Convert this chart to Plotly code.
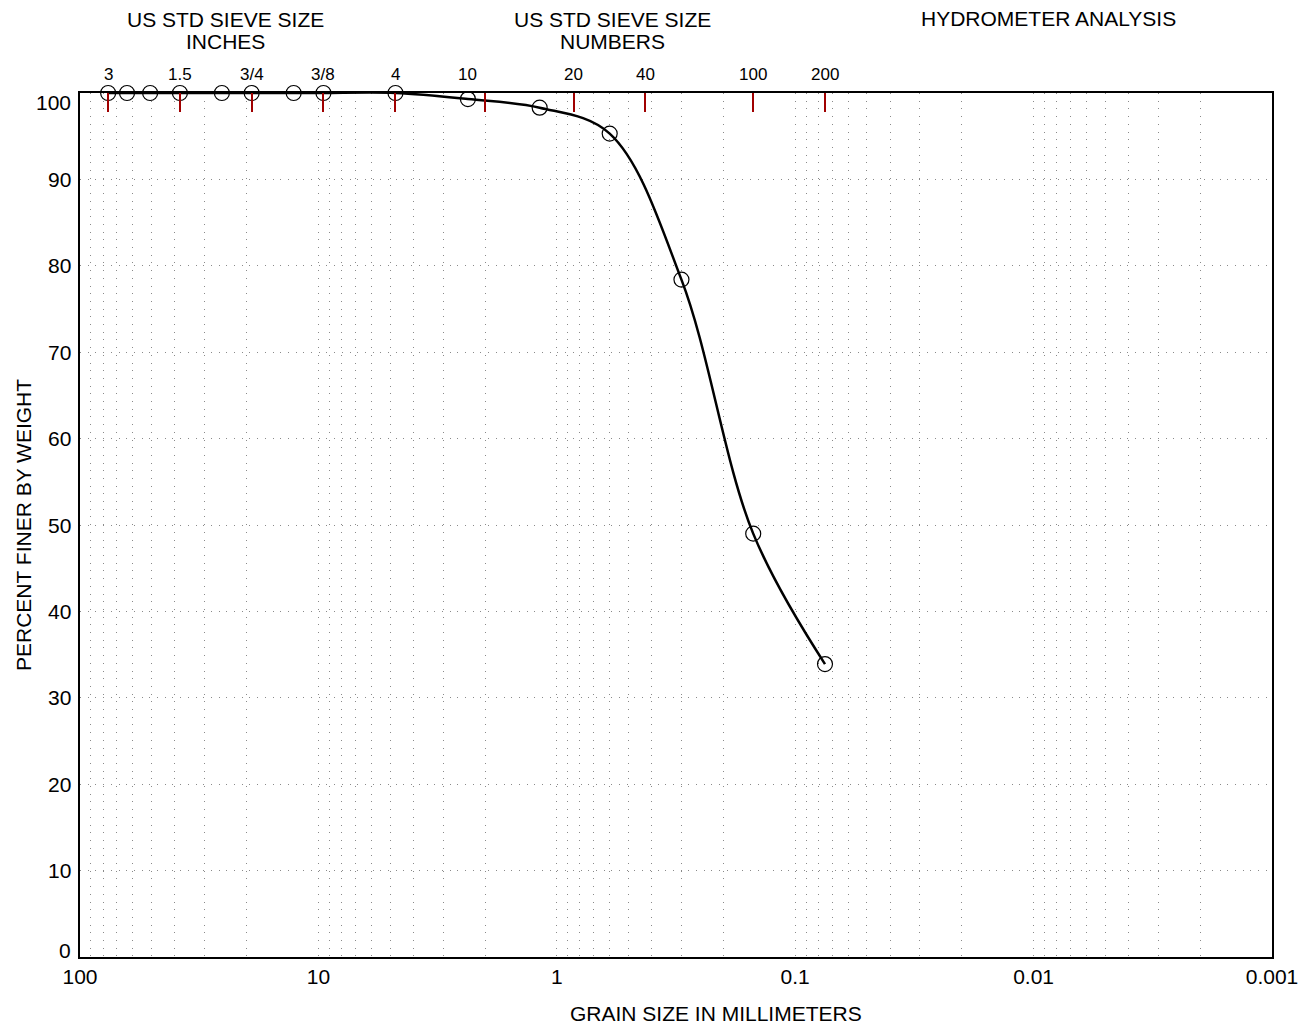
import numpy as np
import plotly.graph_objects as go

# ---- data ----
grain_mm = [76.2, 63.5, 50.8, 38.1, 25.4, 19.05, 12.7, 9.525, 4.75, 2.36, 1.18, 0.6, 0.3, 0.15, 0.075]
percent_finer = [100, 100, 100, 100, 100, 100, 100, 100, 100, 99.3, 98.3, 95.3, 78.4, 49.0, 33.9]

sieve_tick_mm = [76.2, 38.1, 19.05, 9.525, 4.75, 2.0, 0.85, 0.425, 0.15, 0.075]
sieve_label_mm = [76.2, 38.1, 19.05, 9.525, 4.75, 2.36, 0.85, 0.425, 0.15, 0.075]
sieve_labels = ["3", "1.5", "3/4", "3/8", "4", "10", "20", "40", "100", "200"]

x_major = [100, 10, 1, 0.1, 0.01, 0.001]
x_major_text = ["100", "10", "1", "0.1", "0.01", "0.001"]
y_ticks = [0, 10, 20, 30, 40, 50, 60, 70, 80, 90, 100]

decades = [0.001, 0.01, 0.1, 1, 10]
x_minor = [d * m for d in decades for m in range(2, 10)]

FONT = "Liberation Sans, Arial, sans-serif"
GRID = "#8a8a8a"
DOT = "1px,6.7px"

fig = go.Figure()

# curve
fig.add_trace(go.Scatter(
    x=grain_mm, y=percent_finer, mode="lines",
    line=dict(color="black", width=2.5, shape="spline", smoothing=1.0),
    cliponaxis=False, hoverinfo="skip", showlegend=False))
# points
fig.add_trace(go.Scatter(
    x=grain_mm, y=percent_finer, mode="markers",
    marker=dict(symbol="circle-open", size=15, color="black", line=dict(width=1.2, color="black")),
    cliponaxis=False, showlegend=False))
# dummy trace for top axis
fig.add_trace(go.Scatter(x=sieve_tick_mm, y=[None] * len(sieve_tick_mm), xaxis="x2",
                         mode="markers", showlegend=False, hoverinfo="skip"))

fig.update_layout(
    width=1293, height=1022,
    margin=dict(l=72, r=29, t=85, b=73, pad=0),
    paper_bgcolor="white", plot_bgcolor="white",
    font=dict(family=FONT, size=21, color="black"),
    showlegend=False,
    xaxis=dict(
        type="log", range=[2, -3],
        tickmode="array", tickvals=x_major, ticktext=x_major_text,
        ticks="", showline=True, linecolor="black", linewidth=1.5, mirror=True,
        showgrid=True, gridcolor=GRID, griddash=DOT, gridwidth=1,
        minor=dict(tickvals=x_minor, showgrid=True, gridcolor=GRID, griddash=DOT, gridwidth=1, ticks=""),
        zeroline=False, tickfont=dict(size=21), ticklabelstandoff=0, automargin=False,
    ),
    xaxis2=dict(
        type="log", range=[2, -3], overlaying="x", side="top",
        tickmode="array", tickvals=sieve_tick_mm, showticklabels=False,
        ticks="inside", ticklen=19, tickwidth=1.5, tickcolor="#a00000",
        showgrid=False, showline=False, zeroline=False,
    ),
    yaxis=dict(
        range=[0, 100], tickmode="array", tickvals=y_ticks, showticklabels=False,
        ticks="", showline=True, linecolor="black", linewidth=1.5, mirror=True,
        showgrid=True, gridcolor=GRID, griddash=DOT, gridwidth=1,
        zeroline=False, automargin=False,
    ),
)

ann = []
# y tick labels (end labels kept inside the frame's vertical extent)
for v in y_ticks:
    shift = 7 if v == y_ticks[0] else (-9 if v == y_ticks[-1] else 0)
    ann.append(dict(x=0, y=v, xref="paper", yref="y", text=str(v), showarrow=False,
                    xanchor="right", yanchor="middle", xshift=-7, yshift=shift, font=dict(size=21)))

for mm, lab in zip(sieve_label_mm, sieve_labels):
    ann.append(dict(x=np.log10(mm), y=1, xref="x", yref="paper", text=lab, showarrow=False,
                    yanchor="middle", xanchor="center", yshift=18.5, font=dict(size=17)))

def top_text(xpix, ypix, text):
    return dict(x=(xpix - 80) / 1192, y=1, xref="paper", yref="paper", text=text, showarrow=False,
                xanchor="center", yanchor="middle", yshift=93 - ypix, font=dict(size=21))

ann += [
    top_text(225, 19, "US STD SIEVE SIZE"),
    top_text(225, 41, "INCHES"),
    top_text(612, 19, "US STD SIEVE SIZE"),
    top_text(612, 41, "NUMBERS"),
    top_text(1048, 18, "HYDROMETER ANALYSIS"),
]
ann.append(dict(x=(715.5 - 80) / 1192, y=0, xref="paper", yref="paper", text="GRAIN SIZE IN MILLIMETERS",
                showarrow=False, xanchor="center", yanchor="middle", yshift=-56, font=dict(size=21)))
ann.append(dict(x=0, y=0.5, xref="paper", yref="paper", text="PERCENT FINER BY WEIGHT",
                showarrow=False, textangle=-90, xanchor="center", yanchor="middle", xshift=-57,
                font=dict(size=21)))
fig.update_layout(annotations=ann)

fig.write_html("out.html")
